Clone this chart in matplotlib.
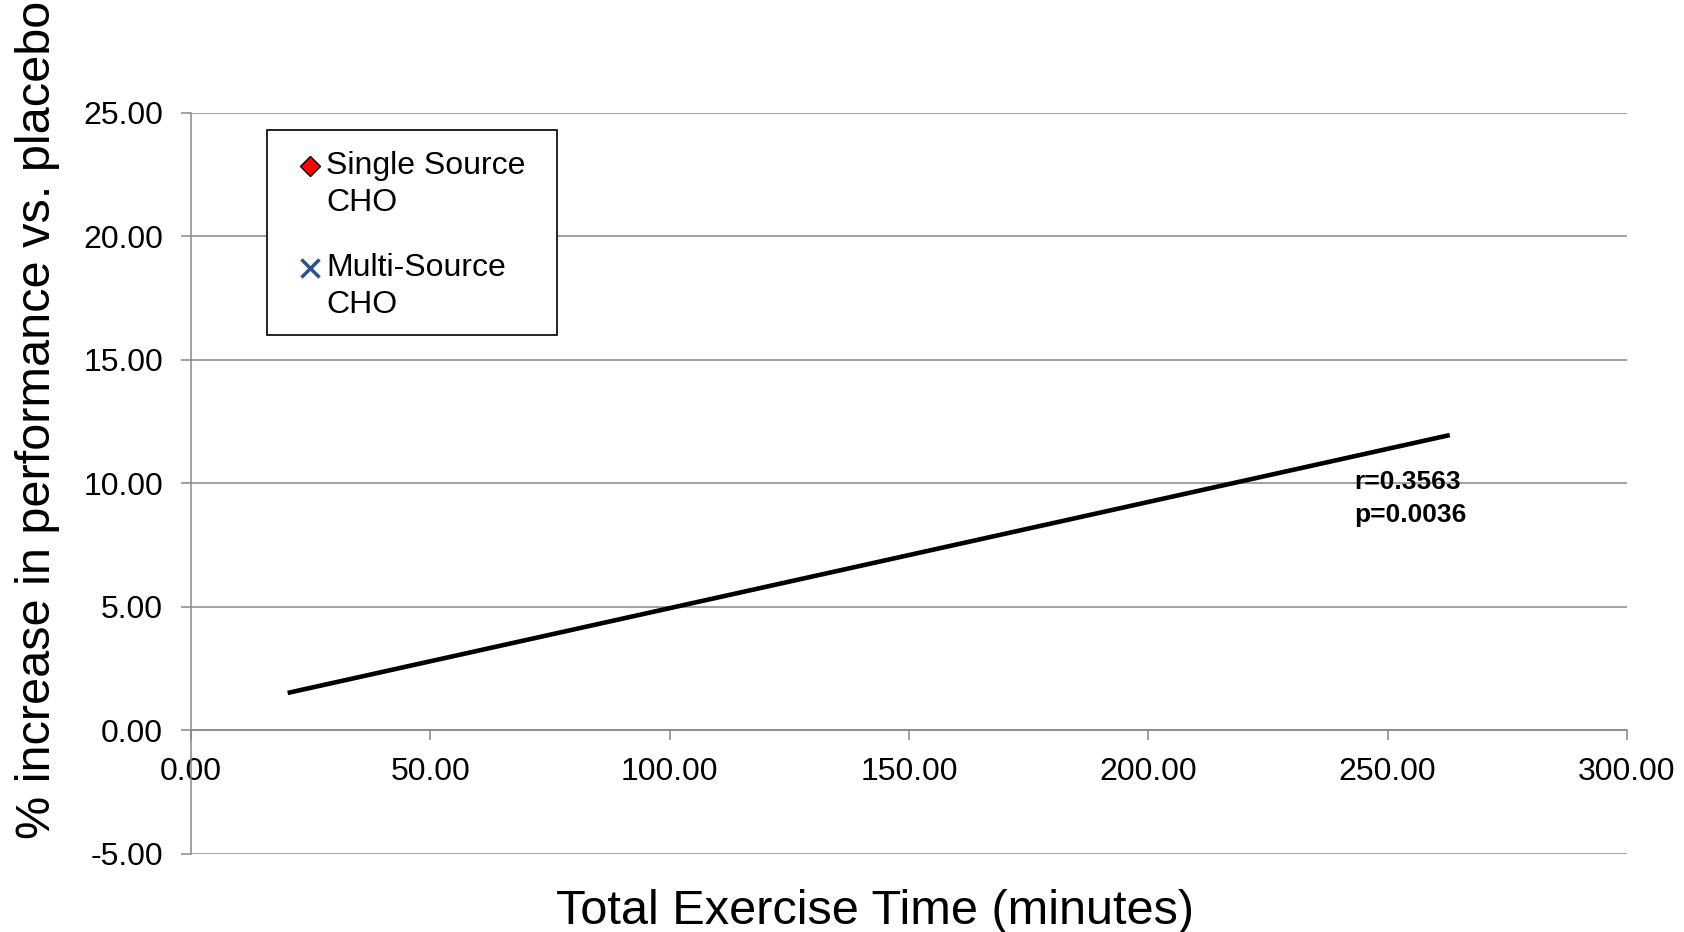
import matplotlib
matplotlib.use("Agg")
import matplotlib.pyplot as plt
from matplotlib.patches import Rectangle

plt.rcParams.update({
    "font.family": ["Liberation Sans", "DejaVu Sans"],
    "axes.edgecolor": "#888888",
    "xtick.color": "#888888",
    "ytick.color": "#888888",
    "xtick.labelcolor": "black",
    "ytick.labelcolor": "black",
})

# linear fit of performance gain against exercise duration
fit_x = [20.2, 263.0]
fit_y = [1.52, 11.96]

x_ticks = [0, 50, 100, 150, 200, 250, 300]
y_ticks = [-5, 0, 5, 10, 15, 20, 25]

series_names = ["Single Source\nCHO", "Multi-Source\nCHO"]

fig = plt.figure(figsize=(16.84, 9.32), dpi=100)
ax = fig.add_axes([0.1134, 0.0837, 0.8527, 0.7951])

ax.spines["top"].set_visible(False)
ax.spines["right"].set_visible(False)
ax.spines["bottom"].set_position(("data", 0))
ax.spines["bottom"].set_linewidth(1.1)
ax.spines["left"].set_linewidth(1.1)

ax.set_xlim(0, 300)
ax.set_ylim(-5, 25)
ax.set_yticks(y_ticks)
ax.set_yticklabels([f"{v:.2f}" for v in y_ticks], fontsize=23)
ax.set_xticks(x_ticks)
ax.set_xticklabels([f"{v:.2f}" for v in x_ticks], fontsize=23)

ax.yaxis.grid(True, color="#888888", linewidth=1.1)
ax.set_axisbelow(True)
ax.tick_params(axis="both", direction="out", length=7, width=1.1)
ax.tick_params(axis="x", pad=12)
ax.tick_params(axis="y", pad=13)

ax.plot(fit_x, fit_y, color="black", linewidth=3.3, solid_capstyle="butt")

ax.text(243, 9.39, "r=0.3563\np=0.0036", fontsize=19, fontweight="bold",
        ha="left", va="center", linespacing=1.5)

ax.set_xlabel("Total Exercise Time (minutes)", fontsize=35)
ax.xaxis.set_label_coords(0.4764, -0.077)
ax.xaxis.label.set_va("center")
ax.set_ylabel("% increase in performance vs. placebo", fontsize=35)
ax.yaxis.set_label_coords(-0.107, 0.586)
ax.yaxis.label.set_va("center")

# legend box, drawn by hand so each marker sits on the first line of its label
ax.add_patch(Rectangle((0.0531, 0.70), 0.2019, 0.2768, transform=ax.transAxes,
                       facecolor="white", edgecolor="black", linewidth=1.2,
                       zorder=5, clip_on=False))
ax.plot([0.0830], [0.9290], transform=ax.transAxes, linestyle="none",
        marker="D", markersize=10, markerfacecolor="#ff0000",
        markeredgecolor="black", markeredgewidth=1, zorder=6, clip_on=False)
ax.plot([0.0830], [0.7914], transform=ax.transAxes, linestyle="none",
        marker="x", markersize=13, markeredgecolor="#2f5189",
        markeredgewidth=2.5, zorder=6, clip_on=False)
ax.text(0.0943, 0.9030, series_names[0], transform=ax.transAxes, fontsize=23,
        ha="left", va="center", linespacing=1.3, zorder=6)
ax.text(0.0943, 0.7655, series_names[1], transform=ax.transAxes, fontsize=23,
        ha="left", va="center", linespacing=1.3, zorder=6)

fig.savefig("out.png", dpi=100, facecolor="white")
